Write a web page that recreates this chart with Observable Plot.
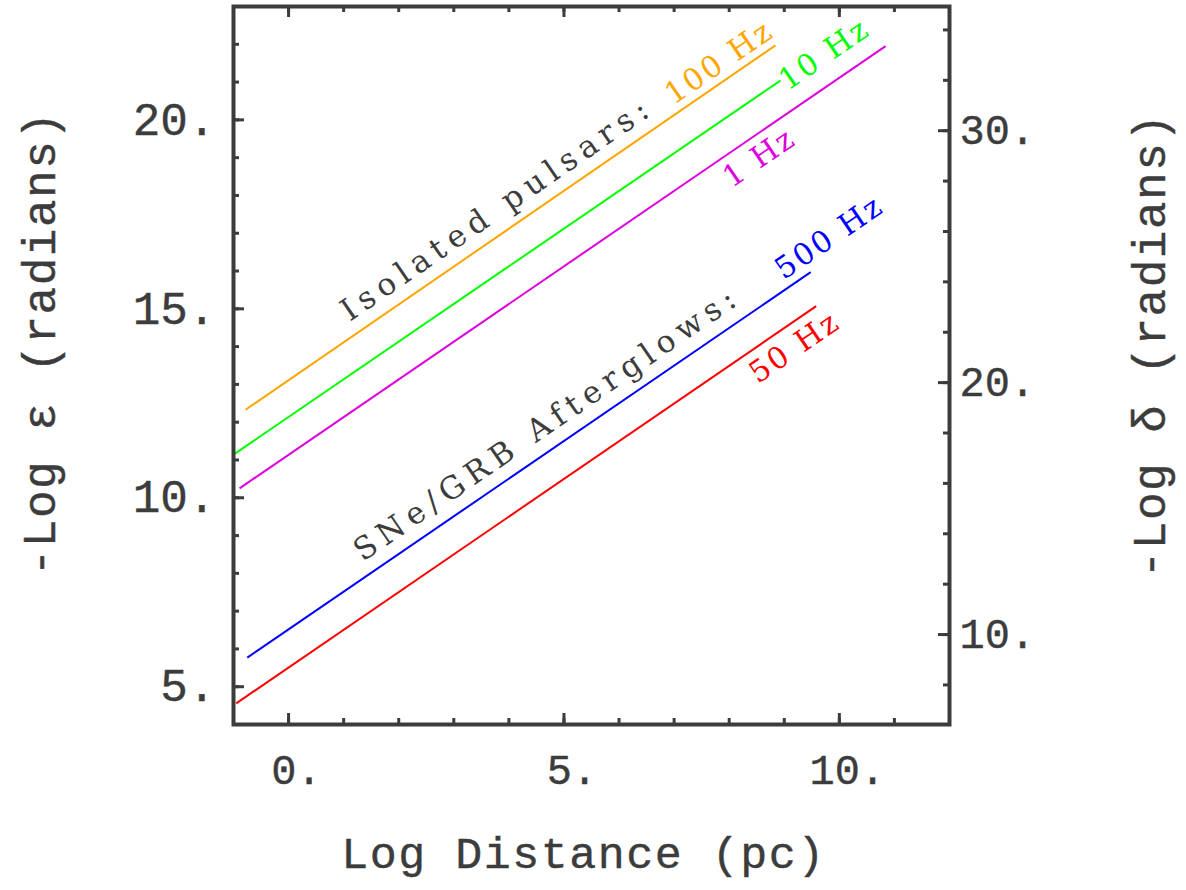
<!DOCTYPE html>
<html>
<head>
<meta charset="utf-8">
<script src="https://cdn.jsdelivr.net/npm/d3@7"></script>
<script src="https://cdn.jsdelivr.net/npm/@observablehq/plot@0.6"></script>
<style>
  body { margin: 0; background: #fff; }
  #chart svg { display: block; }
</style>
</head>
<body>
<div id="chart"></div>
<script>
// Sensitivity lines: -Log ε versus Log distance for each source class / frequency
const lineNames = ["100 Hz", "10 Hz", "1 Hz", "500 Hz", "50 Hz"];
const lineColors = ["#ffa500", "#00ff00", "#dd00dd", "#0000ff", "#ff0000"];
const logDistStart = [-0.78, -1.0, -0.89, -0.75, -0.95];
const logDistEnd = [8.84, 8.93, 10.84, 9.48, 9.58];
const epsStart = [12.33, 11.14, 10.25, 5.77, 4.56];
const epsEnd = [21.97, 21.04, 21.95, 15.97, 15.07];

// Frequency labels written along the lines
const freqLabelX = [7.82, 9.73, 8.55, 9.82, 9.19];
const freqLabelY = [21.52, 21.73, 19.0, 16.89, 13.98];

// Source-class labels
const groupNames = ["Isolated pulsars:", "SNe/GRB Afterglows:"];
const groupLabelX = [3.79, 4.70];
const groupLabelY = [17.65, 11.97];

// Axis ticks
const xMajorTicks = [0, 5, 10];
const xMinorTicks = [0, 1, 2, 3, 4, 5, 6, 7, 8, 9, 10, 11];
const epsMajorTicks = [5, 10, 15, 20];
const epsMinorTicks = [5, 6, 7, 8, 9, 10, 11, 12, 13, 14, 15, 16, 17, 18, 19, 20, 21, 22];
const deltaMajorTicks = [10, 20, 30];
const deltaMinorTicks = [8, 10, 12, 14, 16, 18, 20, 22, 24, 26, 28, 30, 32, 34];
const deltaOffset = 0.43; // -Log δ = 1.5 (-Log ε) + offset
const epsFromDelta = d => (d - deltaOffset) / 1.5;

const segments = lineNames.map((name, i) => ({
  name, color: lineColors[i],
  x1: logDistStart[i], y1: epsStart[i], x2: logDistEnd[i], y2: epsEnd[i],
  lx: freqLabelX[i], ly: freqLabelY[i]
}));
const groups = groupNames.map((name, i) => ({name, x: groupLabelX[i], y: groupLabelY[i]}));

const W = 1186, H = 890;
const mL = 233, mR = 237, mT = 6, mB = 166;
const innerW = W - mL - mR, innerH = H - mT - mB;
const ink = "#3c3c3c";
const axisFont = "Liberation Mono";
const labelFont = "DejaVu Serif";
const slope = -34.45;

const chart = Plot.plot({
  width: W, height: H,
  marginLeft: mL, marginRight: mR, marginTop: mT, marginBottom: mB,
  x: {domain: [-1, 12]},
  y: {domain: [4, 23]},
  marks: [
    Plot.link(segments, {x1: "x1", y1: "y1", x2: "x2", y2: "y2", stroke: "color", strokeWidth: 2}),
    Plot.text(segments, {x: "lx", y: "ly", text: "name", fill: "color", rotate: slope,
      fontFamily: labelFont, fontSize: 30, className: "inlabel"}),
    Plot.text(groups, {x: "x", y: "y", text: "name", fill: ink, rotate: slope,
      fontFamily: labelFont, fontSize: 31, className: "grouplabel"}),
    // inward ticks
    Plot.tickX(xMinorTicks, {x: d => d, insetTop: innerH - 6, stroke: ink, strokeWidth: 3}),
    Plot.tickX(xMajorTicks, {x: d => d, insetTop: innerH - 11, stroke: ink, strokeWidth: 3}),
    Plot.tickX(xMinorTicks, {x: d => d, insetBottom: innerH - 6, stroke: ink, strokeWidth: 3}),
    Plot.tickX(xMajorTicks, {x: d => d, insetBottom: innerH - 11, stroke: ink, strokeWidth: 3}),
    Plot.tickY(epsMinorTicks, {y: d => d, insetRight: innerW - 6, stroke: ink, strokeWidth: 3}),
    Plot.tickY(epsMajorTicks, {y: d => d, insetRight: innerW - 11, stroke: ink, strokeWidth: 3}),
    Plot.tickY(deltaMinorTicks, {y: epsFromDelta, insetLeft: innerW - 6, stroke: ink, strokeWidth: 3}),
    Plot.tickY(deltaMajorTicks, {y: epsFromDelta, insetLeft: innerW - 11, stroke: ink, strokeWidth: 3}),
    Plot.frame({stroke: ink, strokeWidth: 4}),
    // tick labels
    Plot.axisX(xMajorTicks, {anchor: "bottom", tickSize: 0, tickPadding: 30, dx: 8,
      tickFormat: d => d + ".", fontSize: 42, fontFamily: axisFont, color: ink, label: null,
      className: "ticklabel"}),
    Plot.axisY(epsMajorTicks, {anchor: "left", tickSize: 0, tickPadding: 18,
      tickFormat: d => d + ".", fontSize: 46, fontFamily: axisFont, color: ink, label: null,
      className: "ticklabel"}),
    Plot.axisY(deltaMajorTicks.map(epsFromDelta), {anchor: "right", tickSize: 0, tickPadding: 10,
      tickFormat: e => Math.round(e * 1.5 + deltaOffset) + ".", fontSize: 42, fontFamily: axisFont,
      color: ink, label: null, className: "ticklabel"}),
    // axis titles
    Plot.text(["Log Distance (pc)"], {frameAnchor: "bottom", textAnchor: "middle", dx: -8, dy: 143,
      fontSize: 45, fontFamily: axisFont, fill: ink, className: "title"}),
    Plot.text(["-Log ε (radians)"], {frameAnchor: "left", textAnchor: "middle", dx: -193, dy: -22,
      rotate: -90, fontSize: 46, fontFamily: axisFont, fill: ink, className: "title"}),
    Plot.text(["-Log δ (radians)"], {frameAnchor: "right", textAnchor: "middle", dx: 201, dy: -20,
      rotate: -90, fontSize: 46, fontFamily: axisFont, fill: ink, className: "title"})
  ]
});

const svg = d3.select(chart);
svg.selectAll(".inlabel text").style("letter-spacing", "2.5px");
svg.selectAll(".grouplabel text").style("letter-spacing", "6.5px");
svg.selectAll(".title text").style("letter-spacing", "1.5px");
// slightly heavier strokes for the axis lettering
svg.selectAll(".ticklabel text, .title text").style("stroke", ink).style("stroke-width", "0.4px");
document.getElementById("chart").append(chart);
</script>
</body>
</html>
